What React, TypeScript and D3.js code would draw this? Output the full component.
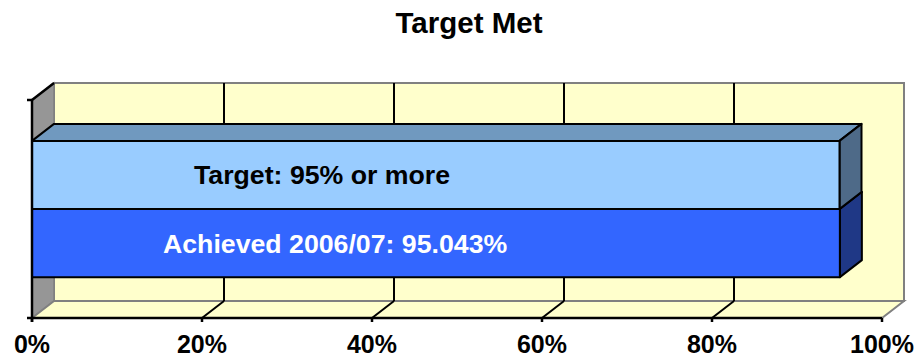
import React from "react";
import * as d3 from "d3";

const seriesNames = ["Target", "Achieved"];
const seriesValues = [0.95, 0.95043];
const seriesLabels = ["Target: 95% or more", "Achieved 2006/07: 95.043%"];
const tickValues = [0, 0.2, 0.4, 0.6, 0.8, 1];

const W = 917;
const H = 358;
const FONT = "Arial, 'Liberation Sans', sans-serif";

const fills: Record<string, { front: string; top: string; side: string; text: string }> = {
  Target: { front: "#99ccff", top: "#7099bf", side: "#4e6a88", text: "#000" },
  Achieved: { front: "#3366ff", top: "#2448b3", side: "#1f3886", text: "#fff" },
};
const labelDx: Record<string, number> = { Target: 162, Achieved: 131 };

export default function App() {
  // front face of plot area
  const left = 32, right = 882, top = 100, bottom = 318;
  const dx = 22, dy = -17;

  const x = d3.scaleLinear().domain([0, 1]).range([left, right]);
  const y = d3.scaleBand<string>().domain(seriesNames).range([top, bottom]).paddingInner(0).paddingOuter(0.6);

  const poly = (pts: [number, number][]) => pts.map((p) => p.join(",")).join(" ");

  const bars = seriesNames.map((name, i) => {
    const x0 = x(0), x1 = x(seriesValues[i]);
    const y0 = y(name)!, y1 = y0 + y.bandwidth();
    return { name, x0, x1, y0, y1, label: seriesLabels[i] };
  });

  return (
    <svg width={W} height={H} style={{ position: "absolute", left: 0, top: 0 }} fontFamily={FONT} fontWeight="bold">
      <rect width={W} height={H} fill="#fff" />
      <text x={469} y={33} textAnchor="middle" fontSize={29.5}>Target Met</text>

      {/* back wall */}
      <rect x={left + dx} y={top + dy} width={right - left} height={bottom - top} fill="#ffffcc" stroke="#808080" strokeWidth={2} />
      {/* side wall */}
      <polygon points={poly([[left, top], [left + dx, top + dy], [left + dx, bottom + dy], [left, bottom]])} fill="#969696" stroke="#808080" strokeWidth={1.5} />
      {/* floor */}
      <polygon points={poly([[left, bottom], [left + dx, bottom + dy], [right + dx, bottom + dy], [right, bottom]])} fill="#ffffcc" stroke="#808080" strokeWidth={2} />

      {/* gridlines */}
      {tickValues.slice(1, -1).map((t) => (
        <g key={t} stroke="#000" strokeWidth={2}>
          <line x1={x(t) + dx} x2={x(t) + dx} y1={top + dy} y2={bottom + dy} />
          <line x1={x(t)} x2={x(t) + dx} y1={bottom} y2={bottom + dy} />
        </g>
      ))}

      {/* bars, drawn bottom to top */}
      {[...bars].reverse().map((b) => (
        <g key={b.name} stroke="#000" strokeWidth={2} strokeLinejoin="round">
          <polygon points={poly([[b.x0, b.y0], [b.x0 + dx, b.y0 + dy], [b.x1 + dx, b.y0 + dy], [b.x1, b.y0]])} fill={fills[b.name].top} />
          <polygon points={poly([[b.x1, b.y0], [b.x1 + dx, b.y0 + dy], [b.x1 + dx, b.y1 + dy], [b.x1, b.y1]])} fill={fills[b.name].side} />
          <rect x={b.x0} y={b.y0} width={b.x1 - b.x0} height={b.y1 - b.y0} fill={fills[b.name].front} />
        </g>
      ))}
      {bars.map((b) => (
        <text key={b.name} x={x(0) + labelDx[b.name]} y={(b.y0 + b.y1) / 2 + 9.5} fontSize={26.7} fill={fills[b.name].text}>
          {b.label}
        </text>
      ))}

      {/* axes */}
      <g stroke="#000" strokeWidth={2.5} fill="none">
        <line x1={left} x2={left} y1={top} y2={bottom + 4} />
        <line x1={left} x2={left + dx} y1={top} y2={top + dy} />
        <line x1={left - 5} x2={left} y1={top} y2={top} />
        <line x1={left - 5} x2={right} y1={bottom} y2={bottom} />
        {tickValues.map((t) => (
          <line key={t} x1={x(t)} x2={x(t)} y1={bottom} y2={bottom + 4} />
        ))}
      </g>
      {tickValues.map((t) => (
        <text key={t} x={x(t)} y={353} textAnchor="middle" fontSize={25}>
          {d3.format(".0%")(t)}
        </text>
      ))}
    </svg>
  );
}
